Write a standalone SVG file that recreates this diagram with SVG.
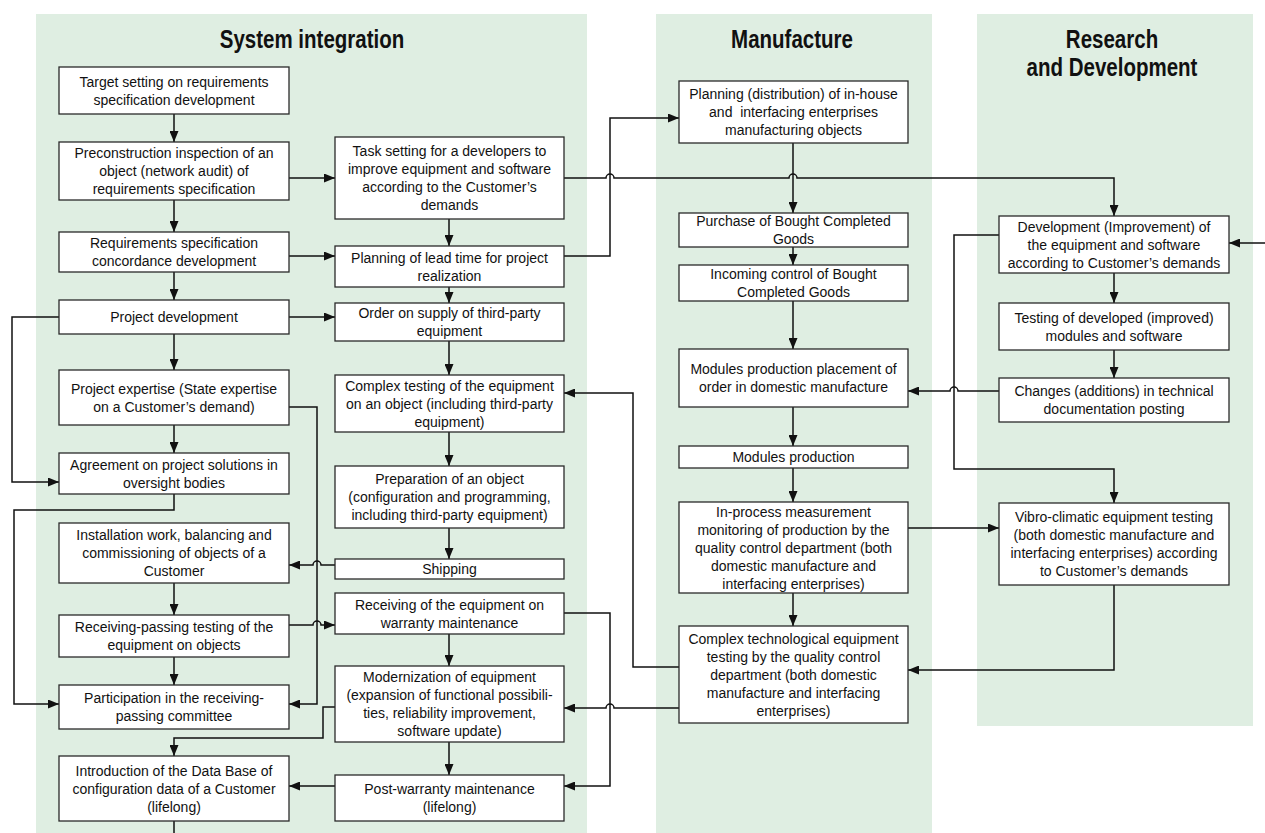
<svg xmlns="http://www.w3.org/2000/svg" width="1265" height="833" viewBox="0 0 1265 833">
<style>
.panel{fill:#dfeee2;stroke:none}
.box{fill:#fff;stroke:#2a2a2a;stroke-width:1.3}
.t{font-family:"Liberation Sans",Arial,sans-serif;font-size:14px;fill:#111;text-anchor:middle}
.title{font-family:"Liberation Sans",Arial,sans-serif;font-size:25px;font-weight:bold;fill:#111;text-anchor:middle}
.c{fill:none;stroke:#111;stroke-width:1.5}
.a{marker-end:url(#ah)}
</style>
<defs>
<marker id="ah" markerUnits="userSpaceOnUse" markerWidth="11" markerHeight="9" refX="11" refY="4.5" orient="auto">
<path d="M0,0 L11,4.5 L0,9 z" fill="#111"/>
</marker>
</defs>
<rect width="1265" height="833" fill="#fff"/>
<g id="panels">
<rect class="panel" x="36" y="14" width="551" height="819"/>
<rect class="panel" x="656" y="14" width="276" height="819"/>
<rect class="panel" x="977" y="14" width="276" height="712"/>
<text class="title" transform="translate(312,48) scale(0.82,1)">System integration</text>
<text class="title" transform="translate(792,48) scale(0.82,1)">Manufacture</text>
<text class="title" transform="translate(1112,48) scale(0.82,1)">Research</text>
<text class="title" transform="translate(1112,76) scale(0.82,1)">and Development</text>
</g>
<g id="connectors">
<path class="c a" d="M174,114 V142"/>
<path class="c a" d="M174,200 V232"/>
<path class="c a" d="M174,272 V300"/>
<path class="c a" d="M174,334 V370"/>
<path class="c a" d="M174,425 V453"/>
<path class="c a" d="M174,583 V615"/>
<path class="c a" d="M174,657 V685"/>
<path class="c" d="M174,821 V833"/>
<path class="c a" d="M59,317 H12 V482 H59"/>
<path class="c a" d="M174,494 V510 H14 V704 H59"/>
<path class="c a" d="M289,178 H335"/>
<path class="c a" d="M289,256 H335"/>
<path class="c a" d="M289,317 H335"/>
<path class="c a" d="M449,219 V246"/>
<path class="c a" d="M449,287 V303"/>
<path class="c a" d="M449,341 V375"/>
<path class="c a" d="M449,432 V466"/>
<path class="c a" d="M449,528 V559"/>
<path class="c a" d="M449,634 V666"/>
<path class="c a" d="M449,742 V775"/>
<path class="c a" d="M289,407 H317 V704 H289"/>
<path class="c a" d="M335,565 H321 A4,4 0 0 0 313,565 H289"/>
<path class="c a" d="M289,625 H313 A4,4 0 0 1 321,625 H335"/>
<path class="c a" d="M335,707 H323 V738 H174 V756"/>
<path class="c a" d="M335,786 H289"/>
<path class="c a" d="M564,178 H606 A4,4 0 0 1 614,178 H789 A4,4 0 0 1 797,178 H1114 V216"/>
<path class="c a" d="M564,256 H610 V118 H679"/>
<path class="c a" d="M793,143 V213"/>
<path class="c a" d="M793,247 V265"/>
<path class="c a" d="M793,301 V349"/>
<path class="c a" d="M793,407 V446"/>
<path class="c a" d="M793,468 V502"/>
<path class="c a" d="M793,593 V626"/>
<path class="c a" d="M1114,273 V303"/>
<path class="c a" d="M1114,350 V378"/>
<path class="c a" d="M999,391 H958 A4,4 0 0 0 950,391 H908"/>
<path class="c a" d="M999,235 H954 V469 H1114 V503"/>
<path class="c a" d="M1265,243 H1229"/>
<path class="c a" d="M908,528 H999"/>
<path class="c a" d="M1114,585 V670 H908"/>
<path class="c a" d="M679,667 H633 V393 H564"/>
<path class="c a" d="M679,708 H614 A4,4 0 0 0 606,708 H564"/>
<path class="c a" d="M564,613 H610 V786 H564"/>
</g>
<g id="n1"><rect class="box" x="59" y="67" width="230" height="47"/><text class="t"><tspan x="174" y="86.5">Target setting on requirements</tspan><tspan x="174" y="104.5">specification development</tspan></text></g>
<g id="n2"><rect class="box" x="59" y="142" width="230" height="58"/><text class="t"><tspan x="174" y="158">Preconstruction inspection of an</tspan><tspan x="174" y="176">object (network audit) of</tspan><tspan x="174" y="194">requirements specification</tspan></text></g>
<g id="n3"><rect class="box" x="59" y="232" width="230" height="40"/><text class="t"><tspan x="174" y="248">Requirements specification</tspan><tspan x="174" y="266">concordance development</tspan></text></g>
<g id="n4"><rect class="box" x="59" y="300" width="230" height="34"/><text class="t"><tspan x="174" y="322">Project development</tspan></text></g>
<g id="n5"><rect class="box" x="59" y="370" width="230" height="55"/><text class="t"><tspan x="174" y="393.5">Project expertise (State expertise</tspan><tspan x="174" y="411.5">on a Customer’s demand)</tspan></text></g>
<g id="n6"><rect class="box" x="59" y="453" width="230" height="41"/><text class="t"><tspan x="174" y="469.5">Agreement on project solutions in</tspan><tspan x="174" y="487.5">oversight bodies</tspan></text></g>
<g id="n7"><rect class="box" x="59" y="523" width="230" height="60"/><text class="t"><tspan x="174" y="540">Installation work, balancing and</tspan><tspan x="174" y="558">commissioning of objects of a</tspan><tspan x="174" y="576">Customer</tspan></text></g>
<g id="n8"><rect class="box" x="59" y="615" width="230" height="42"/><text class="t"><tspan x="174" y="632">Receiving-passing testing of the</tspan><tspan x="174" y="650">equipment on objects</tspan></text></g>
<g id="n9"><rect class="box" x="59" y="685" width="230" height="44"/><text class="t"><tspan x="174" y="703">Participation in the receiving-</tspan><tspan x="174" y="721">passing committee</tspan></text></g>
<g id="n10"><rect class="box" x="59" y="756" width="230" height="65"/><text class="t"><tspan x="174" y="775.5">Introduction of the Data Base of</tspan><tspan x="174" y="793.5">configuration data of a Customer</tspan><tspan x="174" y="811.5">(lifelong)</tspan></text></g>
<g id="m1"><rect class="box" x="335" y="137" width="229" height="82"/><text class="t"><tspan x="449.5" y="156">Task setting for a developers to</tspan><tspan x="449.5" y="174">improve equipment and software</tspan><tspan x="449.5" y="192">according to the Customer’s</tspan><tspan x="449.5" y="210">demands</tspan></text></g>
<g id="m2"><rect class="box" x="335" y="246" width="229" height="41"/><text class="t"><tspan x="449.5" y="262.5">Planning of lead time for project</tspan><tspan x="449.5" y="280.5">realization</tspan></text></g>
<g id="m3"><rect class="box" x="335" y="303" width="229" height="38"/><text class="t"><tspan x="449.5" y="318">Order on supply of third-party</tspan><tspan x="449.5" y="336">equipment</tspan></text></g>
<g id="m4"><rect class="box" x="335" y="375" width="229" height="57"/><text class="t"><tspan x="449.5" y="390.5">Complex testing of the equipment</tspan><tspan x="449.5" y="408.5">on an object (including third-party</tspan><tspan x="449.5" y="426.5">equipment)</tspan></text></g>
<g id="m5"><rect class="box" x="335" y="466" width="229" height="62"/><text class="t"><tspan x="449.5" y="484">Preparation of an object</tspan><tspan x="449.5" y="502">(configuration and programming,</tspan><tspan x="449.5" y="520">including third-party equipment)</tspan></text></g>
<g id="m6"><rect class="box" x="335" y="559" width="229" height="20"/><text class="t"><tspan x="449.5" y="574">Shipping</tspan></text></g>
<g id="m7"><rect class="box" x="335" y="593" width="229" height="41"/><text class="t"><tspan x="449.5" y="609.5">Receiving of the equipment on</tspan><tspan x="449.5" y="627.5">warranty maintenance</tspan></text></g>
<g id="m8"><rect class="box" x="335" y="666" width="229" height="76"/><text class="t"><tspan x="449.5" y="682">Modernization of equipment</tspan><tspan x="449.5" y="700">(expansion of functional possibili-</tspan><tspan x="449.5" y="718">ties, reliability improvement,</tspan><tspan x="449.5" y="736">software update)</tspan></text></g>
<g id="m9"><rect class="box" x="335" y="775" width="229" height="46"/><text class="t"><tspan x="449.5" y="794">Post-warranty maintenance</tspan><tspan x="449.5" y="812">(lifelong)</tspan></text></g>
<g id="f1"><rect class="box" x="679" y="81" width="229" height="62"/><text class="t"><tspan x="793.5" y="99">Planning (distribution) of in-house</tspan><tspan x="793.5" y="117">and&#160; interfacing enterprises</tspan><tspan x="793.5" y="135">manufacturing objects</tspan></text></g>
<g id="f2"><rect class="box" x="679" y="213" width="229" height="34"/><text class="t"><tspan x="793.5" y="226">Purchase of Bought Completed</tspan><tspan x="793.5" y="244">Goods</tspan></text></g>
<g id="f3"><rect class="box" x="679" y="265" width="229" height="36"/><text class="t"><tspan x="793.5" y="279">Incoming control of Bought</tspan><tspan x="793.5" y="297">Completed Goods</tspan></text></g>
<g id="f4"><rect class="box" x="679" y="349" width="229" height="58"/><text class="t"><tspan x="793.5" y="374">Modules production placement of</tspan><tspan x="793.5" y="392">order in domestic manufacture</tspan></text></g>
<g id="f5"><rect class="box" x="679" y="446" width="229" height="22"/><text class="t"><tspan x="793.5" y="462">Modules production</tspan></text></g>
<g id="f6"><rect class="box" x="679" y="502" width="229" height="91"/><text class="t"><tspan x="793.5" y="516.5">In-process measurement</tspan><tspan x="793.5" y="534.5">monitoring of production by the</tspan><tspan x="793.5" y="552.5">quality control department (both</tspan><tspan x="793.5" y="570.5">domestic manufacture and</tspan><tspan x="793.5" y="588.5">interfacing enterprises)</tspan></text></g>
<g id="f7"><rect class="box" x="679" y="626" width="229" height="97"/><text class="t"><tspan x="793.5" y="643.5">Complex technological equipment</tspan><tspan x="793.5" y="661.5">testing by the quality control</tspan><tspan x="793.5" y="679.5">department (both domestic</tspan><tspan x="793.5" y="697.5">manufacture and interfacing</tspan><tspan x="793.5" y="715.5">enterprises)</tspan></text></g>
<g id="r1"><rect class="box" x="999" y="216" width="230" height="57"/><text class="t"><tspan x="1114" y="231.5">Development (Improvement) of</tspan><tspan x="1114" y="249.5">the equipment and software</tspan><tspan x="1114" y="267.5">according to Customer’s demands</tspan></text></g>
<g id="r2"><rect class="box" x="999" y="303" width="230" height="47"/><text class="t"><tspan x="1114" y="322.5">Testing of developed (improved)</tspan><tspan x="1114" y="340.5">modules and software</tspan></text></g>
<g id="r3"><rect class="box" x="999" y="378" width="230" height="44"/><text class="t"><tspan x="1114" y="396">Changes (additions) in technical</tspan><tspan x="1114" y="414">documentation posting</tspan></text></g>
<g id="r4"><rect class="box" x="999" y="503" width="230" height="82"/><text class="t"><tspan x="1114" y="522">Vibro-climatic equipment testing</tspan><tspan x="1114" y="540">(both domestic manufacture and</tspan><tspan x="1114" y="558">interfacing enterprises) according</tspan><tspan x="1114" y="576">to Customer’s demands</tspan></text></g>
</svg>
